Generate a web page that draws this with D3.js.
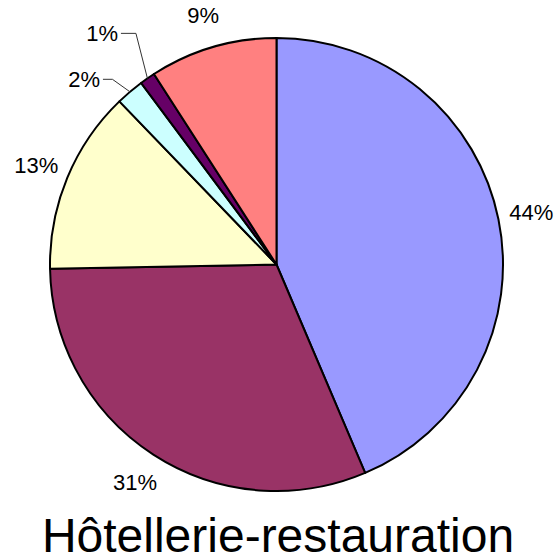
<!DOCTYPE html>
<html>
<head>
<meta charset="utf-8">
<script src="https://cdn.jsdelivr.net/npm/d3@7"></script>
<style>
  body { margin: 0; background: #fff; }
  svg text { font-family: "Liberation Sans", Arial, Helvetica, sans-serif; fill: #000; }
</style>
</head>
<body>
<script>

// Slice shares (percent), clockwise from 12 o'clock
const categories = ["A", "B", "C", "D", "E", "F"];
const values = [43.6, 31.1, 13.1, 2.0, 1.1, 9.1];
const colors = ["#9999FF", "#993366", "#FFFFCC", "#CCFFFF", "#660066", "#FF8080"];
const title = "Hôtellerie-restauration";

const width = 560, height = 555;
const cx = 276.5, cy = 264.5, radius = 226.5;

// Small slices get their labels pulled out with a leader line
// elbow offset from the arc point, then a short horizontal run
const leaders = {
    3: { dx: -17.5, dy: -12.5, run: 9.5 },
    4: { dx: -11.5, dy: -45, run: 15 }
};

const svg = d3.select("body").append("svg")
    .attr("width", width)
    .attr("height", height);

const g = svg.append("g")
    .attr("transform", "translate(" + cx + "," + cy + ")");

const pie = d3.pie().sort(null).value(d => d.value);
const arcs = pie(categories.map((c, i) => ({ cat: c, value: values[i], color: colors[i] })));

const arc = d3.arc().innerRadius(0).outerRadius(radius);

g.selectAll(".slice")
    .data(arcs).enter()
    .append("path")
    .classed("slice", true)
    .attr("d", arc)
    .attr("fill", d => d.data.color)
    .attr("stroke", "#000")
    .attr("stroke-width", 2)
    .attr("stroke-linejoin", "round");

const fmt = v => Math.round(v) + "%";
const fontSize = 22;
// label centres sit on a ring just outside the pie
const labelArc = d3.arc().innerRadius(260).outerRadius(260);

arcs.forEach((d, i) => {
    let mid = (d.startAngle + d.endAngle) / 2;
    let ux = Math.sin(mid), uy = -Math.cos(mid);

    if (leaders[i]) {
        let L = leaders[i];
        let ax = radius * ux, ay = radius * uy;
        let ex = ax + L.dx, ey = ay + L.dy;
        g.append("polyline")
            .attr("points", [[ax, ay], [ex, ey], [ex - L.run, ey]].map(p => p.join(",")).join(" "))
            .attr("fill", "none")
            .attr("stroke", "#333")
            .attr("stroke-width", 1);
        g.append("text")
            .attr("x", ex - L.run - 3)
            .attr("y", ey)
            .attr("dy", "0.35em")
            .attr("text-anchor", "end")
            .style("font-size", fontSize + "px")
            .text(fmt(d.value));
        return;
    }

    let c = labelArc.centroid(d);
    g.append("text")
        .attr("x", c[0])
        .attr("y", c[1])
        .attr("dy", "0.35em")
        .attr("text-anchor", "middle")
        .style("font-size", fontSize + "px")
        .text(fmt(d.value));
});

svg.append("text")
    .attr("x", 278)
    .attr("y", 552)
    .attr("text-anchor", "middle")
    .style("font-size", "48px")
    .text(title);

</script>
</body>
</html>
